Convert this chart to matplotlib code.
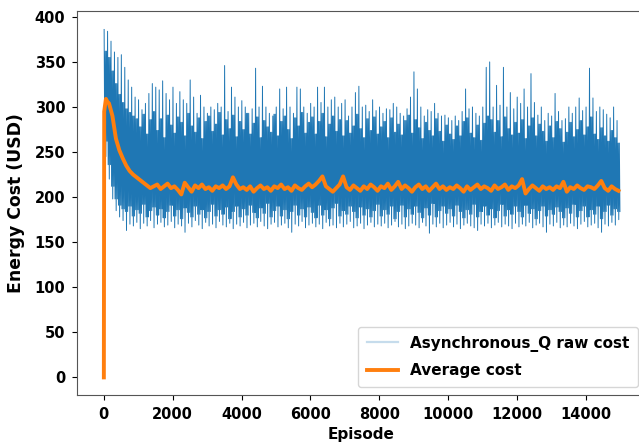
import numpy as np
import matplotlib
matplotlib.use("Agg")
import matplotlib.pyplot as plt

# raw cost per 100-episode block: highest and lowest value in the block
block_ep = np.arange(0, 15000, 100)
raw_hi = [386, 384, 373, 361, 355, 358, 344, 330, 322, 311,
          308, 297, 304, 315, 326, 322, 319, 329, 315, 308,
          322, 304, 317, 308, 304, 330, 311, 293, 313, 300,
          293, 300, 297, 304, 300, 346, 295, 322, 311, 300,
          307, 300, 293, 298, 343, 300, 323, 300, 293, 290,
          300, 320, 298, 322, 300, 293, 322, 320, 300, 293,
          304, 300, 322, 305, 322, 300, 308, 311, 300, 304,
          308, 290, 300, 316, 323, 300, 302, 295, 308, 296,
          300, 293, 298, 297, 304, 300, 293, 290, 298, 311,
          339, 320, 300, 290, 297, 295, 304, 293, 290, 291,
          288, 285, 290, 285, 295, 320, 298, 300, 293, 290,
          300, 344, 350, 300, 324, 302, 344, 300, 316, 298,
          311, 304, 320, 300, 337, 305, 291, 300, 285, 293,
          290, 315, 295, 285, 287, 300, 293, 300, 310, 296,
          300, 343, 310, 295, 300, 297, 292, 288, 300, 285]
raw_lo = [245, 220, 198, 185, 178, 174, 163, 170, 168, 172,
          165, 171, 168, 174, 166, 170, 172, 167, 169, 173,
          166, 170, 168, 161, 171, 167, 174, 169, 165, 172,
          168, 170, 166, 173, 169, 167, 171, 165, 170, 168,
          172, 166, 169, 171, 167, 173, 168, 165, 170, 172,
          167, 169, 171, 166, 161, 170, 168, 173, 166, 169,
          171, 167, 170, 165, 172, 168, 169, 166, 171, 167,
          170, 173, 166, 168, 171, 165, 169, 172, 167, 170,
          168, 171, 166, 169, 173, 167, 170, 165, 168, 171,
          169, 166, 172, 168, 160, 170, 167, 171, 166, 169,
          172, 167, 170, 165, 169, 171, 168, 166, 163, 170,
          168, 171, 166, 169, 172, 167, 170, 168, 165, 171,
          167, 170, 168, 172, 166, 169, 171, 167, 161, 170,
          168, 172, 166, 169, 167, 171, 168, 165, 170, 173,
          167, 169, 171, 166, 161, 170, 168, 172, 169, 175]
# edges of the dense part of the raw band in each block
core_top = [362, 355, 340, 326, 314, 305, 298, 294, 290, 287,
            278, 292, 270, 286, 295, 274, 287, 266, 291, 280,
            271, 289, 283, 268, 293, 279, 272, 288, 265, 284,
            290, 273, 281, 294, 269, 286, 276, 291, 267, 284,
            275, 293, 270, 282, 289, 266, 285, 278, 272, 292,
            268, 284, 290, 275, 265, 288, 279, 294, 271, 283,
            289, 270, 284, 293, 267, 281, 290, 273, 286, 268,
            285, 271, 279, 292, 276, 266, 287, 274, 289, 270,
            278, 284, 266, 288, 272, 281, 269, 285, 291, 271,
            286, 277, 265, 283, 274, 268, 287, 273, 262, 280,
            270, 264, 279, 268, 284, 288, 271, 266, 280, 263,
            282, 290, 286, 272, 285, 267, 289, 276, 269, 283,
            271, 286, 265, 279, 288, 268, 281, 273, 262, 279,
            266, 284, 276, 261, 272, 283, 267, 275, 285, 269,
            278, 289, 270, 264, 277, 268, 262, 274, 266, 260]
core_bot = [262, 236, 212, 198, 191, 187, 184, 190, 179, 186,
            182, 192, 178, 185, 189, 180, 187, 177, 184, 191,
            179, 186, 176, 188, 183, 178, 190, 181, 186, 177,
            184, 192, 179, 186, 181, 189, 176, 184, 190, 178,
            187, 180, 191, 183, 177, 188, 182, 193, 178, 185,
            190, 179, 186, 176, 184, 191, 180, 187, 178, 189,
            183, 177, 191, 180, 186, 176, 188, 193, 179, 185,
            181, 190, 184, 177, 189, 180, 187, 178, 185, 192,
            179, 186, 181, 190, 176, 184, 191, 178, 187, 181,
            190, 183, 177, 188, 180, 193, 178, 185, 190, 182,
            187, 179, 191, 184, 177, 186, 181, 192, 178, 184,
            190, 180, 187, 177, 185, 192, 179, 186, 181, 190,
            184, 178, 191, 182, 187, 176, 185, 190, 179, 186,
            181, 189, 184, 177, 188, 182, 192, 178, 185, 190,
            178, 186, 181, 190, 176, 184, 191, 180, 187, 184]

# moving average cost
avg_head_ep = [0, 10, 60, 100]
avg_head = [0, 295, 309, 306]
avg_ep = np.arange(150, 15000, 100)
avg_cost = [304, 290, 265, 252, 243, 235, 229, 225, 222, 219,
            216, 213, 210, 212, 214, 209, 212, 215, 210, 212,
            208, 203, 216, 211, 206, 213, 210, 214, 209, 211,
            207, 212, 210, 213, 209, 212, 222, 214, 209, 211,
            208, 212, 206, 210, 213, 209, 211, 207, 212, 210,
            214, 209, 211, 207, 213, 210, 208, 212, 215, 211,
            214, 218, 223, 212, 209, 206, 210, 214, 223, 211,
            208, 213, 210, 207, 212, 209, 214, 211, 207, 212,
            210, 215, 208, 212, 217, 209, 213, 210, 206, 211,
            214, 209, 212, 207, 211, 215, 209, 212, 208, 211,
            209, 213, 210, 206, 212, 208, 211, 214, 209, 212,
            210, 207, 213, 209, 211, 214, 208, 212, 210, 213,
            220, 204, 209, 213, 210, 207, 212, 209, 211, 208,
            212, 210, 217, 206, 211, 209, 213, 210, 208, 212,
            211, 209, 213, 218, 210, 207, 212, 209, 207]

# in each block the raw line spikes up, sweeps the dense band, dips down and sweeps back
offs = np.array([8, 25, 42, 58, 75, 92])
raw_x = (block_ep[:, None] + offs[None, :]).ravel()
raw_y = np.column_stack([raw_hi, core_bot, core_top, raw_lo, core_top, core_bot]).ravel()
avg_x = np.concatenate([avg_head_ep, avg_ep])
avg_y = np.concatenate([avg_head, avg_cost])

plt.rcParams['font.family'] = 'DejaVu Sans'
plt.rcParams['font.weight'] = 'bold'
plt.rcParams['axes.labelweight'] = 'bold'

fig = plt.figure(figsize=(6.39, 4.45), dpi=100)
ax = fig.add_axes([0.1205, 0.1124, 0.8905, 0.8629])

ax.plot(raw_x, raw_y, color='#1f77b4', lw=0.7, label='Asynchronous_Q raw cost')
ax.plot(avg_x, avg_y, color='#ff7f0e', lw=2.8, label='Average cost')

ax.set_xlim(-780, 15750)
ax.set_ylim(-19.5, 406.5)
ax.set_yticks(np.arange(0, 401, 50))
ax.set_xticks(np.arange(0, 14001, 2000))
ax.tick_params(labelsize=10.5, pad=5)
ax.set_xlabel('Episode', fontsize=11, labelpad=4)
ax.set_ylabel('Energy Cost (USD)', fontsize=12.4, labelpad=7)
for s in ax.spines.values():
    s.set_color('#555555')

leg = ax.legend(loc='lower right', fontsize=11, labelspacing=0.75, borderpad=0.6)
leg.legend_handles[0].set_alpha(0.25)
leg.legend_handles[0].set_linewidth(1.6)

fig.savefig('out.png', dpi=100)
